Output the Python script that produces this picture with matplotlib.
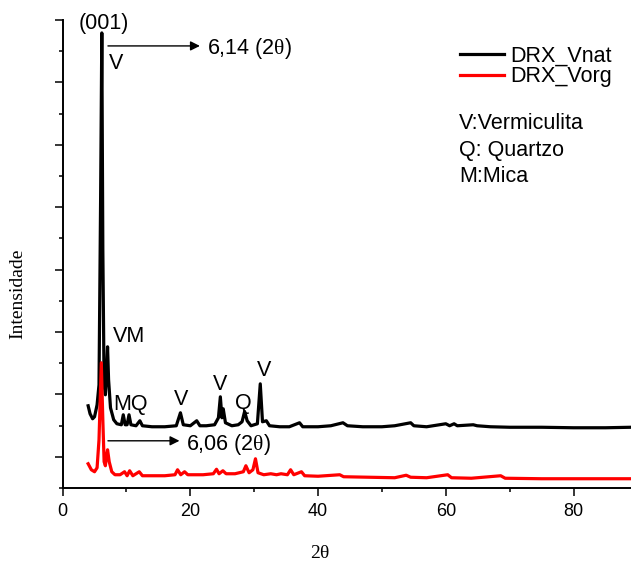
import matplotlib
matplotlib.use("Agg")
import matplotlib.pyplot as plt
from matplotlib.ticker import MultipleLocator, NullFormatter

plt.rcParams['font.family'] = ['Liberation Sans', 'DejaVu Sans']
plt.rcParams['mathtext.fontset'] = 'custom'
plt.rcParams['mathtext.rm'] = 'Liberation Serif'
plt.rcParams['mathtext.it'] = 'Liberation Serif'

# ---- data (2theta in degrees, intensity in arbitrary counts) ----
vnat_x = [4.0, 4.3, 4.7, 5.0, 5.4, 5.7, 5.95, 6.14, 6.3, 6.5, 6.7, 6.9, 7.04, 7.2, 7.5, 8.0,
          8.5, 9.2, 9.5, 9.8, 10.1, 10.4, 10.7, 11.5, 12.1, 12.5, 14.0, 16.0, 17.8, 18.45,
          18.9, 20.0, 21.0, 21.5, 22.5, 23.8, 24.4, 24.7, 24.95, 25.15, 25.5, 26.5, 27.5,
          28.1, 28.5, 28.9, 29.5, 30.5, 30.95, 31.3, 31.9, 32.4, 34.0, 35.5, 37.1, 37.6,
          40.0, 42.0, 43.9, 44.6, 47.0, 50.0, 52.0, 54.5, 55.0, 57.0, 60.0, 60.6, 61.3,
          61.8, 64.3, 64.9, 67.0, 70.0, 75.0, 80.0, 85.0, 89.0]
vnat_y = [817, 689, 609, 641, 833, 1153, 4117, 6792, 3316, 1153, 993, 1394, 1762, 1234, 785, 593,
          529, 513, 673, 513, 513, 673, 513, 497, 577, 497, 481, 481, 497, 705,
          513, 497, 577, 497, 497, 513, 625, 961, 625, 769, 545, 497, 513,
          561, 725, 577, 497, 529, 1169, 561, 577, 497, 481, 481, 545, 481,
          481, 497, 545, 497, 481, 481, 497, 545, 497, 481, 529, 497, 529,
          497, 513, 497, 481, 473, 473, 465, 465, 473]

vorg_x = [4.0, 4.5, 5.0, 5.4, 5.7, 6.06, 6.3, 6.5, 6.7, 6.9, 7.04, 7.3, 7.7, 8.2, 9.0, 9.7,
          10.1, 10.5, 11.0, 12.0, 12.5, 14.0, 16.0, 17.6, 18.0, 18.5, 19.1, 19.6, 22.0,
          23.6, 24.1, 24.5, 25.1, 25.6, 27.0, 28.3, 28.7, 29.2, 29.8, 30.2, 30.6, 31.5,
          32.6, 33.5, 34.2, 35.2, 35.7, 36.2, 37.4, 37.9, 40.0, 43.4, 44.0, 48.0, 52.0,
          53.8, 54.5, 57.0, 60.3, 60.9, 64.0, 68.6, 69.3, 75.0, 80.0, 89.0]
vorg_y = [-112, -208, -240, -176, 272, 1506, 593, -80, -144, 32, 112, -80, -240, -288, -288, -240,
          -304, -224, -304, -240, -304, -304, -304, -288, -208, -288, -240, -288, -288,
          -272, -200, -272, -224, -272, -272, -240, -144, -256, -208, -32, -256, -288,
          -272, -288, -272, -288, -208, -288, -240, -304, -312, -288, -320, -328, -336,
          -296, -328, -336, -288, -336, -344, -304, -344, -352, -352, -352]

series_names = ["DRX_Vnat", "DRX_Vorg"]
series_colors = ["#000000", "#ff0000"]

fig = plt.figure(figsize=(6.31, 5.64), dpi=100)
ax = fig.add_axes([0.0992, 0.1348, 0.9008, 0.8298])

ax.plot(vnat_x, vnat_y, color=series_colors[0], lw=2.3, label=series_names[0], solid_joinstyle='round')
ax.plot(vorg_x, vorg_y, color=series_colors[1], lw=2.3, label=series_names[1], solid_joinstyle='round')

ax.set_xlim(0, 89)
ax.set_ylim(-500, 7000)
ax.xaxis.set_major_locator(MultipleLocator(20))
ax.xaxis.set_minor_locator(MultipleLocator(10))
ax.yaxis.set_major_locator(MultipleLocator(1000))
ax.yaxis.set_minor_locator(MultipleLocator(500))
ax.yaxis.set_major_formatter(NullFormatter())
ax.spines['top'].set_visible(False)
ax.spines['right'].set_visible(False)
for s in ('left', 'bottom'):
    ax.spines[s].set_linewidth(1.4)
ax.tick_params(which='major', direction='out', length=6, width=1.1, labelsize=13, pad=5)
ax.tick_params(which='minor', direction='out', length=3, width=1.1)

fig.text(320 / 631, 1 - 553 / 564, r"2$\mathrm{\theta}$", family='Liberation Serif', fontsize=14,
         ha='center', va='center')
fig.text(18 / 631, 1 - 294 / 564, "Intensidade", family='Liberation Serif', fontsize=14,
         rotation=90, ha='center', va='center')

tk = dict(fontsize=15.5, ha='center', va='center')
ax.text(6.47, 6950, "(001)", clip_on=False, **tk)
ax.annotate("", xy=(21.5, 6584), xytext=(7.1, 6584),
            arrowprops=dict(arrowstyle='-|>', color='black', lw=1.0, mutation_scale=14, shrinkA=0, shrinkB=0))
ax.text(22.6, 6550, r"6,14 (2$\mathrm{\theta}$)", fontsize=15.5, ha='left', va='center')
ax.text(8.35, 6296, "V", **tk)
ax.text(10.4, 1922, "VM", **tk)
ax.text(10.7, 833, "MQ", **tk)
ax.text(18.5, 913, "V", **tk)
ax.text(24.6, 1153, "V", **tk)
ax.text(28.3, 849, "Q", **tk)
ax.text(31.5, 1378, "V", **tk)
ax.annotate("", xy=(18.3, 256), xytext=(7.1, 256),
            arrowprops=dict(arrowstyle='-|>', color='black', lw=1.0, mutation_scale=14, shrinkA=0, shrinkB=0))
ax.text(19.3, 190, r"6,06 (2$\mathrm{\theta}$)", fontsize=15.5, ha='left', va='center')

leg = ax.legend(loc='upper left', bbox_to_anchor=(0.684, 0.964), frameon=False, fontsize=15.5,
                handlelength=2.05, handletextpad=0.3, labelspacing=0.0, borderaxespad=0)
for t, y in (("V:Vermiculita", 0.778), ("Q: Quartzo", 0.722), ("M:Mica", 0.666)):
    ax.text(0.697, y, t, transform=ax.transAxes, fontsize=15.5, ha='left', va='center')

fig.savefig("out.png", dpi=100)
